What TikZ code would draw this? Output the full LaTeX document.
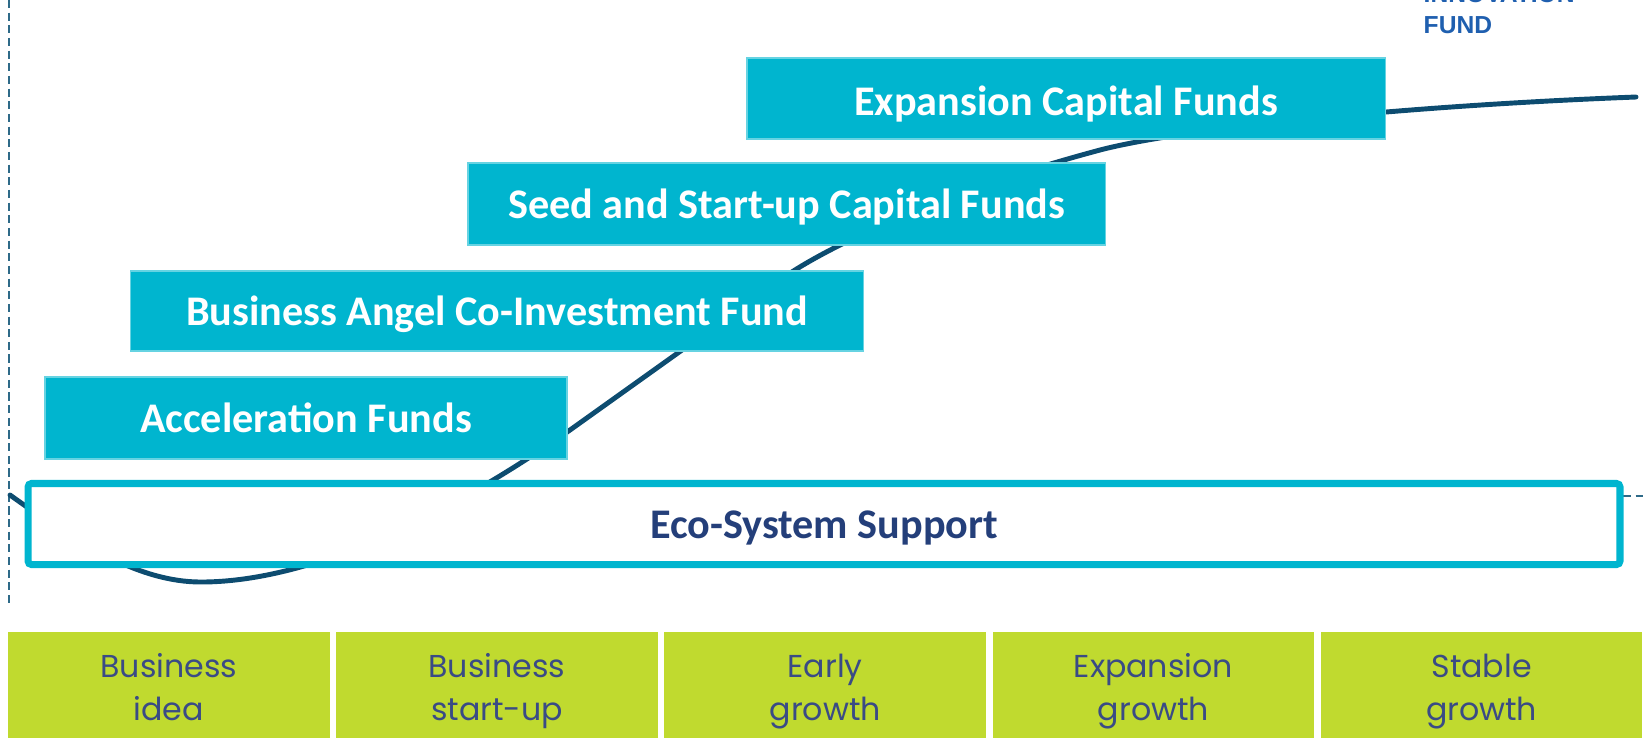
\documentclass[tikz,border=0pt]{standalone}
\usepackage{fontspec}
\setmainfont{Carlito}
\newfontfamily\stagefont{Poppins}
\newfontfamily\tagfont{Liberation Sans}
\usepackage{tikz}
\usetikzlibrary{positioning}
\definecolor{FundCyan}{HTML}{00B5CF}
\definecolor{StageGreen}{HTML}{C0DA2F}
\definecolor{CurveNavy}{HTML}{0D4C70}
\definecolor{EcoNavy}{HTML}{243F7A}
\definecolor{StageText}{HTML}{3A4B85}
\definecolor{TagBlue}{HTML}{1F5FAF}
\definecolor{AxisTeal}{HTML}{2E6A88}
\tikzset{
  % Box styles
  fundbox/.style={rectangle, fill=FundCyan, draw=FundCyan!60!white, line width=0.4pt, text=white, inner sep=0pt, outer sep=0pt, font=\fontsize{12}{14}\selectfont\bfseries, text height=1.8ex, text depth=0.1ex},
  ecobox/.style={rectangle, rounded corners=1pt, fill=white, draw=FundCyan, line width=2pt, text=EcoNavy, inner sep=0pt, minimum width=15.91cm, minimum height=0.81cm, font=\fontsize{12}{14}\selectfont\bfseries, text height=1.8ex, text depth=0.1ex},
  stagebox/.style={rectangle, fill=StageGreen, minimum width=3.215cm, minimum height=1.06cm, inner sep=0pt, outer sep=0pt, text=StageText, font=\stagefont\fontsize{9}{12.2}\selectfont, align=center, text height=20.4pt, text depth=0.5pt},
  tagtext/.style={anchor=base west, inner sep=0pt, text=TagBlue, font=\tagfont\bfseries\fontsize{7}{8.5}\selectfont},
  % Line styles
  growthline/.style={CurveNavy, line width=1.4pt, line cap=round},
  axisline/.style={AxisTeal, line width=0.6pt, dash pattern=on 2.3pt off 1.3pt}
}

\begin{document}
\begin{tikzpicture}[x=0.01cm, y=-0.01cm]
  \useasboundingbox (0,0) rectangle (1643,738);
  \clip (0,0) rectangle (1643,738);

  % Axes
  \coordinate (ytop) at (9,0);
  \coordinate (ybot) at (9,603);
  \draw[axisline] (ytop) -- (ybot);
  \coordinate (xleft) at (1623,496);
  \coordinate (xright) at (1643,496);
  \draw[axisline] (xleft) -- (xright);

  % Growth curve
  \draw[growthline] (10,495) .. controls (80,545) and (140,582) .. (201,582)
    .. controls (300,582) and (430,528) .. (570,430)
    -- (780,280)
    .. controls (830,244) and (950,190) .. (1100,150)
    .. controls (1180,129) and (1400,106) .. (1636,97);

  % Funds
  \node[fundbox, minimum width=5.22cm, minimum height=0.82cm] (accel) at (306,418) {Acceleration Funds};
  \node[fundbox, minimum width=7.32cm, minimum height=0.80cm] (angel) at (497,311) {Business Angel Co-Investment Fund};
  \node[fundbox, minimum width=6.37cm, minimum height=0.82cm] (seed) at (786.5,204) {Seed and Start-up Capital Funds};
  \node[fundbox, minimum width=6.38cm, minimum height=0.81cm, text height=2.1ex] (expcap) at (1066,98.5) {Expansion Capital Funds};

  % Support
  \node[ecobox] (eco) at (824,524) {Eco-System Support};

  % Stages
  \node[stagebox, anchor=north west] (s1) at (8,632) {Business\\idea};
  \node[stagebox, right=0.065cm of s1] (s2) {Business\\start-up};
  \node[stagebox, right=0.065cm of s2] (s3) {Early\\growth};
  \node[stagebox, right=0.065cm of s3] (s4) {Expansion\\growth};
  \node[stagebox, right=0.065cm of s4] (s5) {Stable\\growth};

  % Corner tag
  \node[tagtext] (tag1) at (1423,2) {INNOVATION};
  \node[tagtext] (tag2) at (1423,33) {FUND};
\end{tikzpicture}
\end{document}
